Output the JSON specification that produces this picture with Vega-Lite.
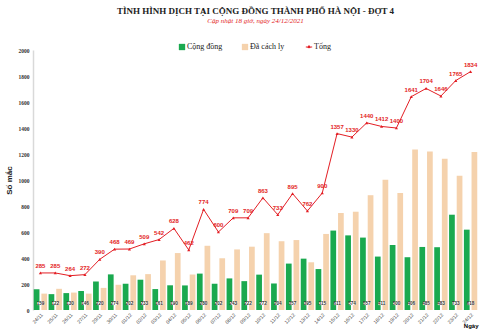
{
  "$schema": "https://vega.github.io/schema/vega-lite/v6.json",
  "width": 445,
  "height": 260,
  "autosize": {"type": "none"},
  "padding": {"left": 33, "top": 50, "right": 22, "bottom": 23},
  "background": "white",
  "title": {
    "text": "TÌNH HÌNH DỊCH TẠI CỘNG ĐỒNG THÀNH PHỐ HÀ NỘI - ĐỢT 4",
    "subtitle": "Cập nhật 18 giờ, ngày 24/12/2021",
    "font": "Liberation Serif",
    "fontSize": 9,
    "fontWeight": "bold",
    "color": "#222222",
    "subtitleFont": "Liberation Serif",
    "subtitleFontSize": 7,
    "subtitleFontStyle": "italic",
    "subtitleColor": "#e31e24",
    "subtitlePadding": 1,
    "anchor": "middle",
    "offset": 19
  },
  "config": {
    "view": {"stroke": null},
    "axisY": {"labelOverlap": false, "labelFlush": false},
    "axisX": {"labelOverlap": false}
  },
  "data": {
    "values": [
      {"date": "24/11", "series": "Cộng đồng", "value": 159},
      {"date": "25/11", "series": "Cộng đồng", "value": 122},
      {"date": "26/11", "series": "Cộng đồng", "value": 130},
      {"date": "27/11", "series": "Cộng đồng", "value": 146},
      {"date": "29/11", "series": "Cộng đồng", "value": 220},
      {"date": "30/11", "series": "Cộng đồng", "value": 274},
      {"date": "01/12", "series": "Cộng đồng", "value": 202},
      {"date": "02/12", "series": "Cộng đồng", "value": 233},
      {"date": "03/12", "series": "Cộng đồng", "value": 161},
      {"date": "04/12", "series": "Cộng đồng", "value": 190},
      {"date": "05/12", "series": "Cộng đồng", "value": 189},
      {"date": "06/12", "series": "Cộng đồng", "value": 280},
      {"date": "07/12", "series": "Cộng đồng", "value": 202},
      {"date": "08/12", "series": "Cộng đồng", "value": 243},
      {"date": "09/12", "series": "Cộng đồng", "value": 222},
      {"date": "10/12", "series": "Cộng đồng", "value": 272},
      {"date": "11/12", "series": "Cộng đồng", "value": 204},
      {"date": "12/12", "series": "Cộng đồng", "value": 357},
      {"date": "13/12", "series": "Cộng đồng", "value": 395},
      {"date": "14/12", "series": "Cộng đồng", "value": 315},
      {"date": "15/12", "series": "Cộng đồng", "value": 611},
      {"date": "16/12", "series": "Cộng đồng", "value": 574},
      {"date": "17/12", "series": "Cộng đồng", "value": 557},
      {"date": "18/12", "series": "Cộng đồng", "value": 411},
      {"date": "19/12", "series": "Cộng đồng", "value": 500},
      {"date": "20/12", "series": "Cộng đồng", "value": 406},
      {"date": "21/12", "series": "Cộng đồng", "value": 485},
      {"date": "22/12", "series": "Cộng đồng", "value": 483},
      {"date": "23/12", "series": "Cộng đồng", "value": 733},
      {"date": "24/12", "series": "Cộng đồng", "value": 618},
      {"date": "24/11", "series": "Đã cách ly", "value": 126},
      {"date": "25/11", "series": "Đã cách ly", "value": 163},
      {"date": "26/11", "series": "Đã cách ly", "value": 134},
      {"date": "27/11", "series": "Đã cách ly", "value": 126},
      {"date": "29/11", "series": "Đã cách ly", "value": 170},
      {"date": "30/11", "series": "Đã cách ly", "value": 194},
      {"date": "01/12", "series": "Đã cách ly", "value": 267},
      {"date": "02/12", "series": "Đã cách ly", "value": 276},
      {"date": "03/12", "series": "Đã cách ly", "value": 381},
      {"date": "04/12", "series": "Đã cách ly", "value": 438},
      {"date": "05/12", "series": "Đã cách ly", "value": 273},
      {"date": "06/12", "series": "Đã cách ly", "value": 494},
      {"date": "07/12", "series": "Đã cách ly", "value": 398},
      {"date": "08/12", "series": "Đã cách ly", "value": 466},
      {"date": "09/12", "series": "Đã cách ly", "value": 487},
      {"date": "10/12", "series": "Đã cách ly", "value": 591},
      {"date": "11/12", "series": "Đã cách ly", "value": 529},
      {"date": "12/12", "series": "Đã cách ly", "value": 538},
      {"date": "13/12", "series": "Đã cách ly", "value": 367},
      {"date": "14/12", "series": "Đã cách ly", "value": 585},
      {"date": "15/12", "series": "Đã cách ly", "value": 746},
      {"date": "16/12", "series": "Đã cách ly", "value": 756},
      {"date": "17/12", "series": "Đã cách ly", "value": 883},
      {"date": "18/12", "series": "Đã cách ly", "value": 1001},
      {"date": "19/12", "series": "Đã cách ly", "value": 900},
      {"date": "20/12", "series": "Đã cách ly", "value": 1235},
      {"date": "21/12", "series": "Đã cách ly", "value": 1219},
      {"date": "22/12", "series": "Đã cách ly", "value": 1163},
      {"date": "23/12", "series": "Đã cách ly", "value": 1032},
      {"date": "24/12", "series": "Đã cách ly", "value": 1216},
      {"date": "24/11", "series": "Tổng", "value": 285},
      {"date": "25/11", "series": "Tổng", "value": 285},
      {"date": "26/11", "series": "Tổng", "value": 264},
      {"date": "27/11", "series": "Tổng", "value": 272},
      {"date": "29/11", "series": "Tổng", "value": 390},
      {"date": "30/11", "series": "Tổng", "value": 468},
      {"date": "01/12", "series": "Tổng", "value": 469},
      {"date": "02/12", "series": "Tổng", "value": 509},
      {"date": "03/12", "series": "Tổng", "value": 542},
      {"date": "04/12", "series": "Tổng", "value": 628},
      {"date": "05/12", "series": "Tổng", "value": 462},
      {"date": "06/12", "series": "Tổng", "value": 774},
      {"date": "07/12", "series": "Tổng", "value": 600},
      {"date": "08/12", "series": "Tổng", "value": 709},
      {"date": "09/12", "series": "Tổng", "value": 709},
      {"date": "10/12", "series": "Tổng", "value": 863},
      {"date": "11/12", "series": "Tổng", "value": 733},
      {"date": "12/12", "series": "Tổng", "value": 895},
      {"date": "13/12", "series": "Tổng", "value": 762},
      {"date": "14/12", "series": "Tổng", "value": 900},
      {"date": "15/12", "series": "Tổng", "value": 1357},
      {"date": "16/12", "series": "Tổng", "value": 1330},
      {"date": "17/12", "series": "Tổng", "value": 1440},
      {"date": "18/12", "series": "Tổng", "value": 1412},
      {"date": "19/12", "series": "Tổng", "value": 1400},
      {"date": "20/12", "series": "Tổng", "value": 1641},
      {"date": "21/12", "series": "Tổng", "value": 1704},
      {"date": "22/12", "series": "Tổng", "value": 1646},
      {"date": "23/12", "series": "Tổng", "value": 1765},
      {"date": "24/12", "series": "Tổng", "value": 1834}
    ]
  },
  "encoding": {
    "x": {
      "field": "date",
      "type": "ordinal",
      "sort": null,
      "scale": {"paddingInner": 0.1, "paddingOuter": 0.05},
      "axis": {
        "title": "Ngày",
        "titleFont": "Liberation Sans",
        "titleFontSize": 6,
        "titleFontWeight": "bold",
        "titleAnchor": "end",
        "titlePadding": -2,
        "labelAngle": -45,
        "labelFont": "Liberation Sans",
        "labelFontSize": 5,
        "labelColor": "#444444",
        "labelPadding": 2,
        "ticks": false,
        "domain": false
      }
    }
  },
  "layer": [
    {
      "transform": [{"filter": "datum.series !== 'Tổng'"}],
      "mark": {"type": "bar"},
      "encoding": {
        "xOffset": {"field": "series", "type": "nominal", "scale": {"domain": ["Cộng đồng", "Đã cách ly"], "paddingInner": 0.25}},
        "y": {
          "field": "value",
          "type": "quantitative",
          "scale": {"domain": [0, 2000]},
          "axis": {
            "title": "Số mắc",
            "titleFont": "Liberation Sans",
            "titleFontSize": 8,
            "titleFontWeight": "bold",
            "titleColor": "#222222",
            "titlePadding": 5,
            "format": "d",
            "tickCount": 20,
            "values": [0, 200, 400, 600, 800, 1000, 1200, 1400, 1600, 1800, 2000],
            "labelFont": "Liberation Serif",
            "labelFontSize": 5.5,
            "labelFontWeight": "bold",
            "labelColor": "#333333",
            "labelPadding": 4,
            "ticks": false,
            "grid": false,
            "domainColor": "#d9d9d9",
            "domainWidth": 1.5
          }
        },
        "color": {
          "field": "series",
          "type": "nominal",
          "scale": {"domain": ["Cộng đồng", "Đã cách ly", "Tổng"], "range": ["#1aa94f", "#f5d2ad", "#e31e24"]},
          "legend": {
            "title": null,
            "orient": "none",
            "legendX": 145,
            "legendY": -7,
            "direction": "horizontal",
            "labelFont": "Liberation Serif",
            "labelFontSize": 8,
            "labelColor": "#222222",
            "symbolSize": 40,
            "symbolType": "square",
            "columnPadding": 18,
            "labelOffset": 1,
            "symbolStrokeWidth": 1,
            "encode": {
              "symbols": {
                "update": {
                  "shape": {"signal": "datum.value === 'Tổng' ? 'M-1,0H1M0,-0.45L0.35,0.2L-0.35,0.2Z' : 'square'"},
                  "stroke": {"signal": "datum.value === 'Tổng' ? '#e31e24' : null"}
                }
              }
            }
          }
        }
      }
    },
    {
      "transform": [{"filter": "datum.series === 'Cộng đồng'"}],
      "mark": {"type": "point", "shape": "M-1,-0.5H1V0.5H-1Z", "filled": true, "color": "white", "opacity": 1, "size": 40},
      "encoding": {"y": {"datum": 50}}
    },
    {
      "transform": [{"filter": "datum.series === 'Cộng đồng'"}],
      "mark": {"type": "text", "font": "Liberation Sans", "fontSize": 4.5, "fontWeight": "bold", "color": "#333333"},
      "encoding": {"y": {"datum": 50}, "text": {"field": "value"}}
    },
    {
      "transform": [{"filter": "datum.series === 'Tổng'"}],
      "mark": {"type": "line", "color": "#e31e24", "strokeWidth": 1},
      "encoding": {"y": {"field": "value", "type": "quantitative"}}
    },
    {
      "transform": [{"filter": "datum.series === 'Tổng'"}],
      "mark": {"type": "point", "shape": "triangle-up", "filled": true, "color": "#e31e24", "opacity": 1, "size": 10},
      "encoding": {"y": {"field": "value", "type": "quantitative"}}
    },
    {
      "transform": [{"filter": "datum.series === 'Tổng'"}],
      "mark": {"type": "text", "font": "Liberation Sans", "fontSize": 6, "fontWeight": "bold", "color": "#e31e24", "dy": -7},
      "encoding": {"y": {"field": "value", "type": "quantitative"}, "text": {"field": "value"}}
    }
  ]
}
